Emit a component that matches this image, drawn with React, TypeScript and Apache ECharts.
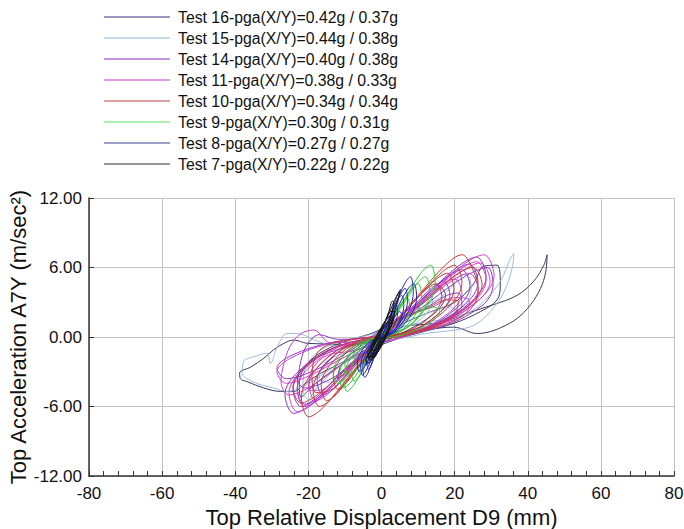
import React, { useEffect, useRef } from "react";
import * as echarts from "echarts";

const seriesNames = [
  "Test 16-pga(X/Y)=0.42g / 0.37g",
  "Test 15-pga(X/Y)=0.44g / 0.38g",
  "Test 14-pga(X/Y)=0.40g / 0.38g",
  "Test 11-pga(X/Y)=0.38g / 0.33g",
  "Test 10-pga(X/Y)=0.34g / 0.34g",
  "Test 9-pga(X/Y)=0.30g / 0.31g",
  "Test 8-pga(X/Y)=0.27g / 0.27g",
  "Test 7-pga(X/Y)=0.22g / 0.22g",
];
const lineColors = ["#3a3a5c", "#9cbcdc", "#9038c8", "#d040d0", "#c83838", "#30cc30", "#2424c0", "#161616"];
const legendColors = ["#7878ac", "#b0cce2", "#b070d8", "#d878d8", "#d08080", "#90e890", "#7880b8", "#707078"];

const xTicks = [-80, -60, -40, -20, 0, 20, 40, 60, 80];
const yTicks = [-12, -6, 0, 6, 12];

const test16: number[][] = [
  [0, 0], [6, 0.9], [12, 1.1], [17, 1.3], [23.4, 2.05], [30.7, 2.8], [37.1, 3.6], [41.6, 4.8], [44.4, 6.2], [45.3, 7.1],
  [44.9, 5.6], [43.5, 4.2], [40.8, 2.8], [37.1, 1.6], [32.6, 0.8], [28.9, 0.4], [26.2, 0.3], [19.7, 0.85], [12, 0.6], [5, 0.1],
  [-3, -0.4], [-10, -0.7], [-15, -0.6], [-20.3, -0.55], [-24, -0.26], [-26.7, -0.55], [-29.5, -1.1], [-32.2, -1.84], [-35.8, -2.6], [-38.8, -3.1],
  [-38.6, -3.6], [-36.7, -3.86], [-32.2, -4.4], [-27.6, -4.7], [-24, -4.7], [-21.2, -4.1], [-17, -3.2], [-12, -2.4], [-6, -1.4], [0, -0.2],
  [5, 1], [12, 2], [20, 3], [25, 4.5], [27.9, 6.1], [31.6, 6.2], [32.5, 4.5], [31.6, 3.2], [27.1, 2.2], [20, 1.2],
  [12, 0.5], [4, -0.2], [-4, -1.2], [-10, -2.2], [-16, -3.5], [-20, -4.6], [-22, -5.2], [-22.5, -4], [-20, -2.2], [-14, -0.9],
  [-8, -0.2], [-2, 0.4], [4, 1.4], [10, 2.6], [14, 3.6], [16, 4.3], [17.5, 3.6], [15, 2.2], [9, 0.9], [2, -0.2],
  [-5, -1.4], [-10, -2.8], [-12, -3.6], [-11, -2.4], [-6, -0.8], [0, 0.6], [4, 2.6], [5, 3.9], [4.2, 3.5], [2, 1.4], [0, 0],
];

const test15: number[][] = [
  [0, 0], [5, 0.8], [12, 1.3], [17, 1.5], [23.4, 2.05], [27.9, 3.05], [32.5, 4.8], [35.3, 6.8], [36.2, 7.2], [35.7, 5.9],
  [33.5, 3.9], [29.8, 2.2], [25.2, 1.0], [20, 0.6], [12, 0.3], [4, -0.2], [-5, -0.6], [-12, -0.8], [-18, -0.3], [-23, 0.3],
  [-25.8, 0.3], [-28.5, -0.84], [-30.4, -2.3], [-31.3, -1.4], [-34.9, -1.7], [-37.7, -2.1], [-38.1, -3.1], [-34.9, -3.9], [-29.5, -4.4], [-25.8, -4.7],
  [-20, -4.0], [-14, -2.8], [-8, -1.6], [-2, -0.2], [4, 1.2], [10, 2.4], [16, 3.4], [20, 4.6], [22, 5.4], [24, 5.2],
  [24.5, 4], [22, 2.6], [16, 1.4], [8, 0.4], [0, -0.6], [-8, -1.8], [-14, -3.2], [-18, -4.5], [-20, -5.4], [-21.5, -4.5],
  [-21, -2.8], [-17, -1.2], [-10, -0.3], [-2, 0.3], [5, 1.5], [10, 2.8], [13, 3.8], [14, 3.2], [11, 1.6], [4, 0.4],
  [-4, -0.8], [-12, -1.6], [-16, -2.4], [-17, -3.6], [-14, -3.9], [-8, -2.6], [-2, -0.8], [6, 1.2], [14, 2.2], [19, 2.6], [21, 1.8], [16, 0.9], [8, 0.3], [0, 0],
];

const test14: number[][] = [
  [0, 0], [11.7, 3.45], [20.8, 6.07], [26, 6.9], [28.6, 5.2], [24.7, 3.1], [13, 0.83],
  [-12, -0.8], [-22.8, -3], [-26.4, -4.95], [-24, -6.6], [-19.2, -5.8], [-10.8, -3.3],
  [9.9, 2.9], [17.6, 5.1], [22, 5.8], [24.2, 4.35], [20.9, 2.6], [11, 0.7],
  [-12, -0.2], [-17, 0.2], [-20, -0.5], [-22, -2], [-23, -4.5], [-21, -5.8], [-17, -5], [-10, -2.8],
  [13, 3], [23.2, 5.3], [29, 6], [30.5, 4.5], [27.5, 2.7], [14.5, 0.72],
  [-13, -0.43], [-24.7, -1.6], [-28.6, -2.7], [-26, -3.6], [-20.8, -3.2], [-11.7, -1.8],
  [7.65, 2.4], [13.6, 4.2], [17, 4.8], [18.7, 3.6], [16.15, 2.16], [8.5, 0.58],
  [-8, -0.6], [-15.2, -2.25], [-17.6, -3.75], [-16, -5], [-12.8, -4.4], [-7.2, -2.5],
  [5, 1.5], [12, 2.5], [18, 3.6], [21, 3.8], [22, 2.8], [18, 1.6], [10, 0.5], [2, -0.3],
  [-6, -0.6], [-14, -1.3], [-20, -2.2], [-23, -3.6], [-21, -4.4], [-15, -3.8], [-8, -2.4], [-2, -0.6],
  [10.8, 3.15], [19.2, 5.5], [24, 6.3], [26.4, 4.7], [22.8, 2.8], [12, 0.76],
  [-11, -0.72], [-20.9, -2.7], [-24.2, -4.5], [-22, -6], [-17.6, -5.3], [-9.9, -3], [0, 0],
];

const test11: number[][] = [
  [0, 0], [12.6, 3.55], [22.4, 6.25], [28, 7.1], [30.8, 5.3], [26.6, 3.2], [14, 0.85],
  [-11.5, -0.77], [-21.85, -2.9], [-25.3, -4.84], [-23, -6.45], [-18.4, -5.68], [-10.35, -3.2],
  [10.8, 2.75], [19.2, 4.84], [24, 5.5], [26.4, 4.1], [22.8, 2.5], [12, 0.66],
  [-14, -0.5], [-18.5, 0.6], [-22, 0.3], [-25, -0.8], [-26.7, -2.3], [-27.5, -3.8], [-25.4, -5.0], [-20, -4.4], [-11.4, -2.5],
  [12, 3.2], [21.6, 5.6], [27, 6.4], [29.7, 4.8], [25.6, 2.9], [13.5, 0.77],
  [-9, -0.66], [-17.1, -2.5], [-19.8, -4.1], [-18, -5.5], [-14.4, -4.84], [-8.1, -2.75],
  [6, 1.6], [14, 2.6], [20, 3.4], [24, 3.2], [23, 2], [16, 1.1], [8, 0.2], [0, -0.5],
  [-8, -1.2], [-15, -1.6], [-19, -2.8], [-20, -4.6], [-17, -4.6], [-11, -3], [-4, -1],
  [9, 2.5], [16, 4.4], [20, 5], [22, 3.75], [19, 2.25], [10, 0.6],
  [-10.5, -0.72], [-20, -2.7], [-23.1, -4.5], [-21, -6], [-16.8, -5.3], [-9.45, -3],
  [11.7, 3.25], [20.8, 5.7], [26, 6.5], [28.6, 4.9], [24.7, 2.9], [13, 0.78],
  [-13, -0.48], [-24.7, -1.8], [-28.6, -3], [-26, -4], [-20.8, -3.5], [-11.7, -2], [0, 0],
];

const test10: number[][] = [
  [0, 0], [9.9, 3.55], [17.6, 6.25], [22, 7.1], [25, 5.8], [26.5, 4], [23, 2], [12, 0.6],
  [-10, -0.83], [-18.9, -3.1], [-21.9, -5.2], [-19.9, -6.9], [-15.9, -6.07], [-9, -3.45],
  [8.1, 2.75], [14.4, 4.84], [18, 5.5], [19.8, 4.1], [17.1, 2.5], [9, 0.66],
  [-11, -0.68], [-20.9, -2.56], [-24.2, -4.3], [-22, -5.7], [-17.6, -5], [-9.9, -2.85],
  [11.25, 3], [20, 5.3], [25, 6], [27.5, 4.5], [23.75, 2.7], [12.5, 0.72],
  [-8, -0.2], [-14, -0.6], [-17.6, -1.4], [-19, -3.2], [-18, -4.8], [-14, -4.6], [-8, -2.6],
  [6.75, 2.3], [12, 4.05], [15, 4.6], [16.5, 3.45], [14.25, 2.07], [7.5, 0.55],
  [-6, -0.54], [-11.4, -2], [-13.2, -3.4], [-12, -4.5], [-9.6, -3.96], [-5.4, -2.25],
  [5, 1.4], [12, 2.4], [18, 3.2], [21, 3.1], [20, 2], [14, 1], [6, 0.1],
  [-7.5, -0.66], [-14.25, -2.5], [-16.5, -4.1], [-15, -5.5], [-12, -4.84], [-6.75, -2.75],
  [9, 3.1], [16, 5.45], [20, 6.2], [22, 4.65], [19, 2.8], [10, 0.74],
  [-8.5, -0.72], [-16.15, -2.7], [-18.7, -4.5], [-17, -6], [-13.6, -5.3], [-7.65, -3], [0, 0],
];

const test9: number[][] = [
  [0, 0], [6.0, 3.1], [10.7, 5.5], [13.4, 6.2], [14.7, 4.65], [12.7, 2.8], [6.7, 0.74],
  [-4.7, -0.56], [-8.9, -2.1], [-10.3, -3.5], [-9.4, -4.7], [-7.5, -4.1], [-4.2, -2.35],
  [4.5, 2.3], [8, 4.05], [10, 4.6], [11, 3.45], [9.5, 2.07], [5, 0.55],
  [-6, -0.48], [-11.4, -1.8], [-13.2, -3], [-12, -4], [-9.6, -3.5], [-5.4, -2],
  [5.4, 2.6], [9.6, 4.58], [12, 5.2], [13.2, 3.9], [11.4, 2.34], [6, 0.62],
  [-3.75, -0.46], [-7.1, -1.7], [-8.25, -2.85], [-7.5, -3.8], [-6, -3.34], [-3.4, -1.9],
  [4, 1.2], [9, 2], [14, 2.6], [16, 2.2], [13, 1.2], [6, 0.2],
  [-5.25, -0.53], [-10, -2], [-11.55, -3.3], [-10.5, -4.4], [-8.4, -3.9], [-4.7, -2.2],
  [3.15, 1.7], [5.6, 3], [7, 3.4], [7.7, 2.55], [6.65, 1.53], [3.5, 0.41],
  [-4, -0.8], [-8, -1.4], [-10, -2.4], [-9, -3.2], [-6, -2.6], [-2, -0.8], [0, 0],
];

const test8: number[][] = [
  [0, 0], [3.6, 2.6], [6.3, 4.6], [7.9, 5.2], [8.7, 3.9], [7.5, 2.3], [4, 0.6],
  [-2.3, -0.4], [-4.4, -1.6], [-5.1, -2.6], [-4.6, -3.5], [-3.7, -3.1], [-2.1, -1.75],
  [2.5, 1.8], [4.4, 3.2], [5.5, 3.6], [6.1, 2.7], [5.2, 1.6], [2.8, 0.4],
  [-3, -0.36], [-5.7, -1.35], [-6.6, -2.25], [-6, -3.0], [-4.8, -2.6], [-2.7, -1.5],
  [4, 2.3], [7, 4.05], [8.8, 4.6], [9.6, 3.45], [8.4, 2.1], [4.4, 0.55],
  [-1.8, -0.34], [-3.4, -1.26], [-4, -2.1], [-3.6, -2.8], [-2.9, -2.5], [-1.6, -1.4],
  [1.8, 1.4], [3.2, 2.5], [4, 2.8], [4.4, 2.1], [3.8, 1.26], [2, 0.34],
  [-2.6, -0.4], [-4.9, -1.5], [-5.7, -2.5], [-5.2, -3.3], [-4.2, -2.9], [-2.3, -1.65],
  [2.9, 2.1], [5.2, 3.7], [6.5, 4.2], [7.1, 3.15], [6.2, 1.9], [3.2, 0.5],
  [-1.5, -0.25], [-2.9, -0.9], [-3.3, -1.5], [-3, -2], [-2.4, -1.76], [-1.35, -1],
  [1, 0.6], [3, 1.4], [5, 2.2], [5.6, 1.8], [4, 0.8], [1, -0.2], [-2, -1], [-4, -1.8], [-4.6, -2.4], [-3.8, -2.3], [-1.5, -1], [0, 0],
];

const test7: number[][] = [
  [0, 0], [-1.6, -1.1], [-3.6, -1.8], [-2, -1.6], [0, -0.8], [2, 0.5], [3.4, 1.6], [3.6, 2.2], [2.6, 2.2], [1, 1.3],
  [-1, 0.3], [-2.8, -0.7], [-3.8, -1.4], [-3.2, -2], [-1.5, -1.5], [0.5, -0.4], [2.4, 0.8], [3, 1.4], [2.4, 1.8], [0.6, 1.2],
  [-1.2, 0.1], [-2.8, -1.1], [-2, -1.2], [0, -0.4], [2, 0.8], [3.6, 2.2], [4.6, 3.4], [5.2, 4.1], [4.6, 3.8], [3.6, 3.2],
  [2, 2], [0.4, 1], [-1.4, -0.2], [-3, -1.2], [-4.2, -1.9], [-3.8, -2.3], [-2.4, -1.9], [-0.8, -1.2], [1, 0], [2.6, 1],
  [3.2, 1.6], [2.8, 1.9], [1.4, 1.5], [-0.2, 0.6], [-1.8, -0.4], [-3.4, -1.4], [-3.6, -1.8], [-2, -1.6], [0, -0.6], [1.6, 0.4],
  [2.2, 1], [1.8, 1.3], [0.4, 0.8], [-1, -0.2], [-2.4, -1], [-2.8, -1.4], [-1.6, -1.4], [0.2, -0.2], [1.8, 0.8], [3, 2.4],
  [3.4, 3], [3, 3.1], [2, 2.2], [0.6, 1], [-0.8, 0], [-2.2, -0.8], [-3, -1.6], [-2.2, -1.8], [-0.6, -1], [1.2, 0.2],
  [2.8, 1.2], [2.4, 1.5], [0.8, 0.9], [-0.8, -0.3], [-2.6, -1.6], [-1.2, -1.2], [0, 0],
];

const seriesData = [test16, test15, test14, test11, test10, test9, test8, test7];

const FONT = "'Liberation Sans', Arial, Helvetica, sans-serif";

export default function App() {
  const ref = useRef<HTMLDivElement>(null);
  useEffect(() => {
    if (!ref.current) return;
    const chart = echarts.init(ref.current, null, { renderer: "svg" });
    chart.setOption({
      animation: false,
      backgroundColor: "#ffffff",
      legend: {
        orient: "vertical",
        left: 99,
        top: 4,
        padding: 5,
        itemGap: 5,
        itemWidth: 66,
        itemHeight: 1.6,
        icon: "rect",
        selectedMode: false,
        textStyle: { fontSize: 15.8, fontFamily: FONT, color: "#111", padding: [0, 0, 0, 3], lineHeight: 15 },
        data: seriesNames.map((n, i) => ({ name: n, itemStyle: { color: legendColors[i] } })),
      },
      grid: { left: 89, right: 10, top: 198, bottom: 53, containLabel: false, outerBoundsMode: "none" },
      xAxis: {
        type: "value",
        min: xTicks[0],
        max: xTicks[xTicks.length - 1],
        interval: 20,
        name: "Top Relative Displacement D9 (mm)",
        nameLocation: "middle",
        nameGap: 30,
        nameMoveOverlap: false,
        nameTextStyle: { fontSize: 22, fontFamily: FONT, color: "#111" },
        axisLine: { show: true, onZero: false, lineStyle: { color: "#333", width: 1.5 } },
        axisTick: { show: true, inside: true, length: 5, lineStyle: { color: "#333" } },
        minorTick: { show: true, splitNumber: 5, length: 5, lineStyle: { color: "#333" } },
        axisLabel: { fontSize: 17, fontFamily: FONT, color: "#111", margin: 9 },
        splitLine: { show: true, lineStyle: { color: "#c4c4c4", width: 1 } },
      },
      yAxis: {
        type: "value",
        min: yTicks[0],
        max: yTicks[yTicks.length - 1],
        interval: 6,
        name: "Top Acceleration A7Y (m/sec²)",
        nameLocation: "middle",
        nameGap: 60,
        nameMoveOverlap: false,
        nameTextStyle: { fontSize: 22, fontFamily: FONT, color: "#111" },
        axisLine: { show: true, onZero: false, lineStyle: { color: "#333", width: 1.5 } },
        axisTick: { show: true, inside: true, length: 5, lineStyle: { color: "#333" } },
        axisLabel: { fontSize: 17, fontFamily: FONT, color: "#111", margin: 7, formatter: (v: number) => v.toFixed(2) },
        splitLine: { show: true, lineStyle: { color: "#c4c4c4", width: 1 } },
      },
      series: seriesData.map((d, i) => ({
        name: seriesNames[i],
        type: "line",
        data: d,
        showSymbol: false,
        symbol: "none",
        smooth: 0.35,
        lineStyle: { color: lineColors[i], width: 1 },
        itemStyle: { color: lineColors[i] },
        z: 2 + i,
      })),
    });
    return () => chart.dispose();
  }, []);
  return <div ref={ref} style={{ width: 684, height: 529, position: "absolute", left: 0, top: 0 }} />;
}
